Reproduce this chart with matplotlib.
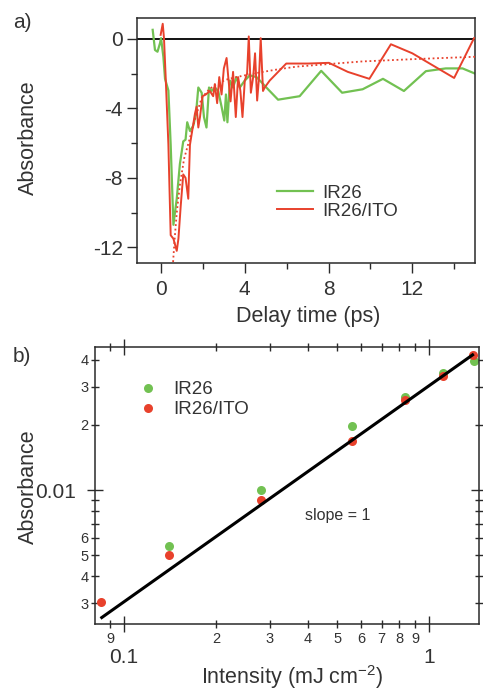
import matplotlib
matplotlib.use("Agg")
import matplotlib.pyplot as plt
from matplotlib.ticker import FixedLocator, FixedFormatter

plt.rcParams['font.family'] = ['Liberation Sans', 'DejaVu Sans']
plt.rcParams['axes.unicode_minus'] = False
plt.rcParams['mathtext.fontset'] = 'custom'
plt.rcParams['mathtext.rm'] = 'Liberation Sans'
plt.rcParams['mathtext.it'] = 'Liberation Sans:italic'
plt.rcParams['mathtext.default'] = 'regular'

# ---------------- data: panel a ----------------
ir26_t = [-0.40, -0.29, -0.17, -0.05, 0.0, 0.11, 0.19, 0.35, 0.46, 0.59, 0.75, 0.90, 1.06, 1.17,
          1.25, 1.38, 1.54, 1.67, 1.78, 1.94, 2.05, 2.17, 2.29, 2.41, 2.57, 2.73, 2.89, 3.02,
          3.10, 3.17, 3.29, 3.44, 3.60, 3.76, 4.00, 4.24, 4.56, 4.80, 5.03, 5.59, 6.62, 7.65,
          8.65, 9.63, 10.6, 11.6, 12.65, 13.6, 14.4, 15.0]
ir26_a = [0.52, -0.64, -0.74, -0.25, 0.04, -1.03, -2.3, -2.97, -6.1, -10.7, -9.2, -7.2, -5.9, -5.8,
          -4.8, -5.3, -5.0, -4.3, -2.8, -3.1, -4.5, -5.1, -2.8, -3.0, -2.8, -3.0, -3.9, -4.7,
          -3.2, -4.8, -2.4, -2.8, -2.2, -2.8, -2.4, -2.1, -2.2, -2.5, -2.8, -3.5, -3.3, -1.84,
          -3.1, -2.9, -2.3, -3.0, -1.86, -1.7, -1.7, -2.0]

ito_t = [-0.02, 0.08, 0.14, 0.22, 0.35, 0.46, 0.59, 0.75, 0.83, 0.94, 1.06, 1.17, 1.30, 1.38,
         1.46, 1.62, 1.70, 1.78, 1.86, 1.98, 2.14, 2.33, 2.49, 2.57, 2.68, 2.78, 2.89, 3.00,
         3.13, 3.21, 3.32, 3.44, 3.57, 3.68, 3.79, 3.89, 4.00, 4.11, 4.19, 4.29, 4.40, 4.49,
         4.59, 4.68, 4.76, 4.87, 4.95, 5.19, 5.98, 7.02, 8.02, 8.92, 9.95, 10.98, 12.0, 14.0, 14.95]
ito_a = [0.23, 0.87, 0.04, -2.19, -6.08, -11.3, -11.5, -12.2, -11.5, -9.6, -7.8, -8.0, -9.2, -6.1,
         -5.5, -4.3, -3.9, -5.1, -4.5, -3.3, -3.2, -3.0, -3.3, -2.6, -3.7, -2.2, -3.2, -1.7,
         -1.1, -2.2, -3.6, -1.9, -4.5, -2.2, -3.0, -4.5, -2.4, -2.0, 0.14, -3.1, -2.2, -0.83,
         -3.55, -2.2, 0.04, -3.0, -2.8, -2.4, -1.42, -1.42, -1.38, -1.9, -2.3, -0.31, -0.83, -2.25, 0.04]

fit_t = [0.56, 0.65, 0.75, 0.90, 1.10, 1.38, 1.65, 1.94, 2.30, 2.65, 3.10, 3.60, 4.20, 4.87,
         5.60, 6.46, 8.00, 9.60, 12.0, 15.0]
fit_a = [-13.1, -11.5, -10.0, -8.4, -6.9, -5.7, -4.5, -3.4, -2.9, -2.6, -2.35, -2.2, -2.05, -1.9,
         -1.75, -1.6, -1.45, -1.3, -1.17, -1.03]

# ---------------- data: panel b ----------------
int_ir26 = [0.1405, 0.281, 0.559, 0.834, 1.11, 1.40]
abs_ir26 = [0.0055, 0.0100, 0.0198, 0.0270, 0.0348, 0.0395]
int_ito = [0.0841, 0.1405, 0.281, 0.559, 0.834, 1.11, 1.39]
abs_ito = [0.00303, 0.0050, 0.0090, 0.0169, 0.0261, 0.0337, 0.0422]
slope_x = [0.0845, 1.39]
slope_y = [0.00257, 0.0422]

xb_major = [0.1, 1]
xb_major_labels = ['0.1', '1']
xb_minor = [0.09, 0.2, 0.3, 0.4, 0.5, 0.6, 0.7, 0.8, 0.9]
xb_minor_labels = ['9', '2', '3', '4', '5', '6', '7', '8', '9']
yb_major = [0.01]
yb_major_labels = ['0.01']
yb_minor = [0.003, 0.004, 0.005, 0.006, 0.007, 0.008, 0.009, 0.02, 0.03, 0.04]
yb_minor_labels = ['3', '4', '5', '6', '', '', '', '2', '3', '4']

GREEN = '#72c152'
RED = '#e8412c'
TXT = '#333333'
SP = '#2a2a2a'

fig = plt.figure(figsize=(4.83, 6.9), dpi=100)

# ---------------- panel a ----------------
ax1 = fig.add_axes([0.2836, 0.6188, 0.700, 0.3551])
ax1.axhline(0, color='black', lw=1.3, zorder=1)
ax1.plot(ir26_t, ir26_a, color=GREEN, lw=1.6, label='IR26', zorder=2)
ax1.plot(ito_t, ito_a, color=RED, lw=1.4, label='IR26/ITO', zorder=3)
ax1.plot(fit_t, fit_a, color=RED, lw=1.3, ls=(0, (1, 1.5)), zorder=4)
ax1.set_xlim(-1.15, 15.0)
ax1.set_ylim(-12.9, 1.2)
ax1.set_xticks([0, 4, 8, 12])
ax1.set_xticks([2, 6, 10, 14], minor=True)
ax1.set_yticks([0, -4, -8, -12])
ax1.set_yticks([-2, -6, -10], minor=True)
ax1.tick_params(which='both', direction='out', colors=SP, labelcolor=TXT, width=1.0)
ax1.tick_params(which='major', length=7, labelsize=15)
ax1.tick_params(axis='x', which='major', pad=5.5)
ax1.tick_params(axis='y', which='major', pad=3)
ax1.tick_params(which='minor', length=4)
for s in ax1.spines.values():
    s.set_color(SP)
    s.set_linewidth(1.1)
ax1.set_xlabel('Delay time (ps)', fontsize=15.5, color=TXT)
ax1.set_ylabel('Absorbance', fontsize=15.5, color=TXT)
ax1.xaxis.set_label_coords(0.506, -0.177)
ax1.yaxis.set_label_coords(-0.29, 0.51)
leg1 = ax1.legend(loc='center left', bbox_to_anchor=(0.414, 0.249), frameon=False,
                  fontsize=13.5, handlelength=1.9, handletextpad=0.5, labelspacing=0.05,
                  borderpad=0, borderaxespad=0)
for t in leg1.get_texts():
    t.set_color(TXT)

# ---------------- panel b ----------------
ax2 = fig.add_axes([0.1967, 0.0957, 0.795, 0.4014])
ax2.set_xscale('log')
ax2.set_yscale('log')
ax2.plot(int_ir26, abs_ir26, 'o', color=GREEN, ms=6.5, mec='none', label='IR26', zorder=2)
ax2.plot(int_ito, abs_ito, 'o', color=RED, ms=6.5, mec='none', label='IR26/ITO', zorder=3)
ax2.plot(slope_x, slope_y, color='black', lw=2.2, zorder=4)
ax2.set_xlim(0.0803, 1.459)
ax2.set_ylim(0.0024, 0.0459)

ax2.xaxis.set_major_locator(FixedLocator(xb_major))
ax2.xaxis.set_major_formatter(FixedFormatter(xb_major_labels))
ax2.xaxis.set_minor_locator(FixedLocator(xb_minor))
ax2.xaxis.set_minor_formatter(FixedFormatter(xb_minor_labels))
ax2.yaxis.set_major_locator(FixedLocator(yb_major))
ax2.yaxis.set_major_formatter(FixedFormatter(yb_major_labels))
ax2.yaxis.set_minor_locator(FixedLocator(yb_minor))
ax2.yaxis.set_minor_formatter(FixedFormatter(yb_minor_labels))

ax2.tick_params(which='both', direction='inout', top=True, right=True, colors=SP,
                labelcolor=TXT, width=1.0)
ax2.tick_params(which='major', length=11, labelsize=15)
ax2.tick_params(which='minor', length=6, labelsize=10.5)
ax2.tick_params(axis='x', which='major', pad=12)
ax2.tick_params(axis='x', which='minor', pad=2.5)
ax2.tick_params(axis='y', which='major', pad=8)
ax2.tick_params(axis='y', which='minor', pad=1.5)
for s in ax2.spines.values():
    s.set_color(SP)
    s.set_linewidth(1.1)
ax2.set_xlabel('Intensity (mJ cm$^{-2}$)', fontsize=15.5, color=TXT)
ax2.set_ylabel('Absorbance', fontsize=15.5, color=TXT)
ax2.xaxis.set_label_coords(0.513, -0.142)
ax2.yaxis.set_label_coords(-0.145, 0.495)
ax2.text(0.547, 0.393, 'slope = 1', transform=ax2.transAxes, fontsize=11.5, color=TXT,
         ha='left', va='center')
leg2 = ax2.legend(loc='center left', bbox_to_anchor=(0.1135, 0.809), frameon=False,
                  fontsize=13.5, handlelength=1.0, handletextpad=0.83, labelspacing=0.15,
                  borderpad=0, borderaxespad=0, numpoints=1)
for t in leg2.get_texts():
    t.set_color(TXT)

fig.text(0.027, 0.968, 'a)', fontsize=15, color=TXT, ha='left', va='center')
fig.text(0.027, 0.483, 'b)', fontsize=15, color=TXT, ha='left', va='center')

fig.savefig('out.png', dpi=100, facecolor='white')
